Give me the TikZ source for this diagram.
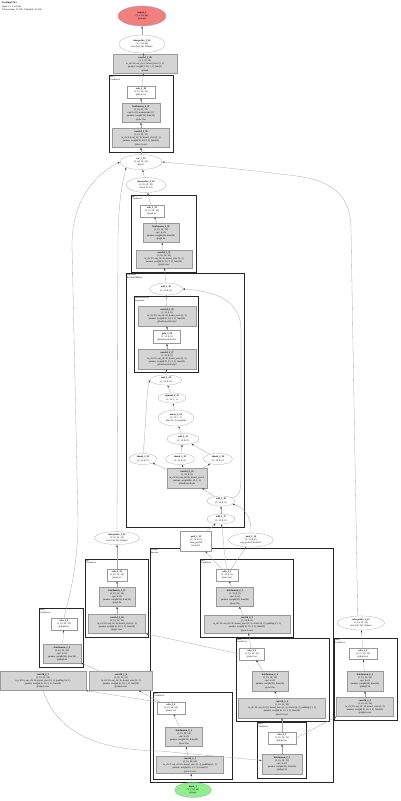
\documentclass[tikz,border=0pt]{standalone}
\usepackage{fontspec}
\setmainfont{Liberation Serif}
\usetikzlibrary{shapes.geometric,arrows.meta}
\definecolor{outred}{HTML}{F08080}
\definecolor{ingreen}{HTML}{90EE90}

\begin{document}
\begin{tikzpicture}[
x=1pt, y=-1pt,
every node/.style={font=\fontsize{2.4}{3.2}\selectfont, align=center, inner sep=0pt},
module/.style={rectangle, draw=black!40, line width=0.2pt, fill=black!17, minimum width=#1, minimum height=19},
func/.style={rectangle, draw=black!40, line width=0.2pt, fill=white, minimum width=#1, minimum height=12},
tensor/.style={ellipse, draw=black!40, line width=0.2pt, fill=white, minimum width=#1, minimum height=12},
grp/.style={draw=black!85, line width=0.8pt},
grplabel/.style={anchor=north west, align=left, inner sep=0.7pt, font=\fontsize{2.2}{2.6}\selectfont},
edge/.style={draw=black!35, line width=0.3pt, -{Latex[length=2.2pt,width=1.6pt,color=black!75]}}
]
\useasboundingbox (0,0) rectangle (400,801);

\node[anchor=north west, align=left] (title) at (2,2)
{\textbf{FastSkipUNet}\\Input: (1, 1, 64, 64)\\Total params: 31,566 \enspace Trainable: 31,566};

% clusters
\draw[grp] (109,75) rectangle (173,152);
\node[grplabel] (labA) at (109,75) {dec1\\ConvBlock};
\draw[grp] (131,195) rectangle (196,272);
\node[grplabel] (labB) at (131,195) {up2\\ConvBlock};
\draw[grp] (126,273) rectangle (244,527);
\node[grplabel] (labC) at (126,273) {bottleneck\\ResidualSEBlock};
\draw[grp] (134,296) rectangle (198,372);
\node[grplabel] (labD) at (134,296) {bottleneck.body\\Sequential};
\draw[grp] (85,559) rectangle (148,637);
\node[grplabel] (labF) at (85,559) {up1\\ConvBlock};
\draw[grp] (39,608) rectangle (83,667);
\node[grplabel] (labE) at (39,608) {skip0\\ConvBlock};
\draw[grp] (150,548) rectangle (333,782);
\node[grplabel] (labG) at (150,548) {encoder\\Encoder};
\draw[grp] (200,559) rectangle (293,637);
\node[grplabel] (labG1) at (200,559) {enc3\\ConvBlock};
\draw[grp] (236,638) rectangle (329,721);
\node[grplabel] (labG2) at (236,638) {enc2\\ConvBlock};
\draw[grp] (257,722) rectangle (306,778);
\node[grplabel] (labG3) at (257,722) {skip1\\ConvBlock};
\draw[grp] (153,692) rectangle (232,779);
\node[grplabel] (labH) at (153,692) {enc1\\ConvBlock};
\draw[grp] (334,638) rectangle (397,720);
\node[grplabel] (labJ) at (334,638) {skip2\\ConvBlock};

% head
\node[tensor=48, minimum height=20, fill=outred] (outp) at (142,16)
{\textbf{output\_1}\\(1, 1, 64, 64)\\@output};
\node[tensor=46, minimum height=18] (interpT) at (142,44)
{\textbf{interpolate\_1\_41}\\(1, 1, 64, 64)\\size=(64, 64), bilinear};
\node[module=64] (convT) at (145,64)
{\textbf{conv2d\_1\_40}\\(1, 1, 32, 32)\\in\_ch=16, out\_ch=1, kernel\_size=(1, 1)\\params: weight(1, 16, 1, 1), bias(1)\\@head};

\node[func=28] (reluA) at (141,92)
{\textbf{relu\_2\_38}\\(1, 16, 32, 32)\\@dec1.act};
\node[module=38] (bnA) at (141,113)
{\textbf{batchnorm\_2\_37}\\(1, 16, 32, 32)\\eps=1e-05, momentum=0.1\\params: weight(16), bias(16)\\@dec1.bn};
\node[module=57] (convA) at (141,138)
{\textbf{conv2d\_2\_36}\\(1, 16, 32, 32)\\in\_ch=64, out\_ch=16, kernel\_size=(3, 3)\\params: weight(16, 64, 3, 3), bias(16)\\@dec1.conv};

\node[tensor=42, minimum height=15] (cat1) at (141,162)
{\textbf{cat\_1\_35}\\(1, 64, 32, 32)\\dim=1};
\node[tensor=40, minimum height=15] (interp2) at (146,185)
{\textbf{interpolate\_1\_34}\\(1, 16, 32, 32)\\size=(32, 32)};

\node[func=24] (reluB) at (152,211)
{\textbf{relu\_2\_33}\\(1, 16, 16, 16)\\@up2.act};
\node[module=36] (bnB) at (161,233)
{\textbf{batchnorm\_2\_32}\\(1, 16, 16, 16)\\eps=1e-05\\params: weight(16), bias(16)\\@up2.bn};
\node[module=56, minimum height=18] (convB) at (164,259)
{\textbf{conv2d\_2\_31}\\(1, 16, 16, 16)\\in\_ch=32, out\_ch=16, kernel\_size=(3, 3)\\params: weight(16, 32, 3, 3), bias(16)\\@up2.conv};

% bottleneck
\node[tensor=33] (add1) at (166,289)
{\textbf{add\_2\_30}\\(1, 32, 8, 8)};
\node[module=58, minimum height=20] (convD1) at (167,316)
{\textbf{conv2d\_3\_29}\\(1, 32, 8, 8)\\in\_ch=32, out\_ch=32, kernel\_size=(3, 3)\\params: weight(32, 32, 3, 3), bias(32)\\@bottleneck.body.2};
\node[func=27, minimum height=13] (gelu) at (167,337)
{\textbf{gelu\_3\_28}\\(1, 32, 8, 8)\\@bottleneck.body.1};
\node[module=58, minimum height=20] (convD2) at (167,359)
{\textbf{conv2d\_3\_27}\\(1, 32, 8, 8)\\in\_ch=32, out\_ch=32, kernel\_size=(3, 3)\\params: weight(32, 32, 3, 3), bias(32)\\@bottleneck.body.0};
\node[tensor=32, minimum height=10] (add2) at (166,380)
{\textbf{mul\_2\_26}\\(1, 32, 8, 8)};
\node[tensor=28, minimum height=10] (sigm) at (172,398)
{\textbf{sigmoid\_2\_25}\\(1, 32, 1, 1)};
\node[tensor=36, minimum height=16] (meanN) at (176,418)
{\textbf{mean\_2\_24}\\(1, 32, 1, 1)\\dim=(2, 3), keepdim};
\node[tensor=32, minimum height=11] (mulN) at (183,439)
{\textbf{add\_2\_23}\\(1, 32, 8, 8)};
\node[tensor=28, minimum height=11] (chL) at (143,459)
{\textbf{chunk\_2\_22}\\(1, 32, 8, 8)};
\node[tensor=29, minimum height=11] (chM) at (180,459)
{\textbf{chunk\_2\_21}\\(1, 32, 8, 8)};
\node[tensor=29, minimum height=11] (chR) at (218,459)
{\textbf{chunk\_2\_20}\\(1, 32, 8, 8)};
\node[module=40, minimum height=20] (convM) at (187,478)
{\textbf{conv2d\_2\_19}\\(1, 96, 8, 8)\\in\_ch=32, out\_ch=96, kernel\_size=1\\params: weight(96, 32, 1, 1)\\@bottleneck.qkv};
\node[tensor=28, minimum height=10] (add3) at (221,501)
{\textbf{add\_2\_18}\\(1, 32, 8, 8)};
\node[tensor=28, minimum height=10] (add4) at (221,519)
{\textbf{add\_2\_17}\\(1, 32, 8, 8)};

% middle row
\node[tensor=45, minimum height=13] (interp3) at (117,538)
{\textbf{interpolate\_1\_16}\\(1, 16, 32, 32)\\size=(32, 32), bilinear};
\node[func=31, minimum height=20] (viewN) at (196,541)
{\textbf{pool\_1\_15}\\(1, 32, 8, 8)\\max\_pool2d\\kernel=2};
\node[tensor=45, minimum height=14] (ellR) at (251,540)
{\textbf{pool\_1\_14}\\(1, 32, 8, 8)\\avg\_pool2d, kernel=2};
\node[tensor=47, minimum height=14] (interpR) at (361,623)
{\textbf{interpolate\_1\_13}\\(1, 16, 32, 32)\\size=(32, 32), bilinear};

% up1 and skip0
\node[func=20] (reluF) at (117,575)
{\textbf{relu\_2\_12}\\(1, 16, 16, 16)\\@up1.act};
\node[module=36] (bnF) at (117,597)
{\textbf{batchnorm\_2\_11}\\(1, 16, 16, 16)\\eps=1e-05\\params: weight(16), bias(16)\\@up1.bn};
\node[module=57] (convF) at (117,624)
{\textbf{conv2d\_2\_10}\\(1, 16, 16, 16)\\in\_ch=32, out\_ch=16, kernel\_size=(3, 3)\\params: weight(16, 32, 3, 3), bias(16)\\@up1.conv};
\node[func=26] (reluE) at (64,624)
{\textbf{relu\_2\_9}\\(1, 16, 32, 32)\\@skip0.act};
\node[module=38] (bnE) at (62,654)
{\textbf{batchnorm\_2\_8}\\(1, 16, 32, 32)\\eps=1e-05\\params: weight(16), bias(16)\\@skip0.bn};
\node[module=86] (convL1) at (43,681)
{\textbf{conv2d\_2\_7}\\(1, 16, 32, 32)\\in\_ch=16, out\_ch=16, kernel\_size=(3, 3), padding=(1, 1)\\params: weight(16, 16, 3, 3), bias(16)\\@skip1.conv};
\node[module=63] (convL2) at (121,681)
{\textbf{conv2d\_2\_6}\\(1, 16, 32, 32)\\in\_ch=16, out\_ch=16, kernel\_size=(3, 3)\\params: weight(16, 16, 3, 3), bias(16)\\@skip0.conv};

% encoder
\node[func=22] (reluG1) at (227,575)
{\textbf{relu\_2\_5}\\(1, 32, 8, 8)\\@enc3.act};
\node[module=37] (bnG1) at (235,597)
{\textbf{batchnorm\_2\_5}\\(1, 32, 8, 8)\\eps=1e-05\\params: weight(32), bias(32)\\@enc3.bn};
\node[module=86, minimum height=18] (convG1) at (247,624)
{\textbf{conv2d\_2\_5}\\(1, 32, 8, 8)\\in\_ch=16, out\_ch=32, kernel\_size=(3, 3), stride=(2, 2), padding=(1, 1)\\params: weight(32, 16, 3, 3), bias(32)\\@enc3.conv};
\node[func=25] (reluG2) at (252,654)
{\textbf{relu\_2\_4}\\(1, 16, 16, 16)\\@enc2.act};
\node[module=36, minimum height=20] (bnG2) at (270,681)
{\textbf{batchnorm\_2\_4}\\(1, 16, 16, 16)\\eps=1e-05\\params: weight(16), bias(16)\\@enc2.bn};
\node[module=87, minimum height=20] (convG2) at (282,708)
{\textbf{conv2d\_2\_4}\\(1, 16, 16, 16)\\in\_ch=16, out\_ch=16, kernel\_size=(3, 3), stride=(2, 2), padding=(1, 1)\\params: weight(16, 16, 3, 3), bias(16)\\@enc2.conv};
\node[func=28] (reluG3) at (282,738)
{\textbf{relu\_2\_3}\\(1, 16, 32, 32)\\@skip1.act};
\node[module=40, minimum height=20] (bnG3) at (282,764)
{\textbf{batchnorm\_2\_3}\\(1, 16, 32, 32)\\eps=1e-05\\params: weight(16), bias(16)\\@skip1.bn};
\node[func=28] (reluH) at (171,708)
{\textbf{relu\_2\_2}\\(1, 16, 64, 64)\\@enc1.act};
\node[module=37] (bnH) at (184,737)
{\textbf{batchnorm\_2\_2}\\(1, 16, 64, 64)\\eps=1e-05\\params: weight(16), bias(16)\\@enc1.bn};
\node[module=67, minimum height=17] (convH) at (190,765)
{\textbf{conv2d\_2\_1}\\(1, 16, 64, 64)\\in\_ch=1, out\_ch=16, kernel\_size=(3, 3), padding=(1, 1)\\params: weight(16, 1, 3, 3), bias(16)\\@enc1.conv};

% skip2
\node[func=28, minimum height=11] (reluJ) at (363,654)
{\textbf{relu\_2\_2}\\(1, 16, 16, 16)\\@skip2.act};
\node[module=36, minimum height=20] (bnJ) at (365,681)
{\textbf{batchnorm\_2\_2}\\(1, 16, 16, 16)\\eps=1e-05\\params: weight(16), bias(16)\\@skip2.bn};
\node[module=57] (convJ) at (365,707)
{\textbf{conv2d\_2\_2}\\(1, 16, 16, 16)\\in\_ch=16, out\_ch=16, kernel\_size=(3, 3)\\params: weight(16, 16, 3, 3), bias(16)\\@skip2.conv};

\node[tensor=37, minimum height=15, fill=ingreen] (inp) at (193,790)
{\textbf{input\_1}\\(1, 1, 64, 64)\\@input};

% edges
\draw[edge] (convT) -- (interpT);
\draw[edge] (interpT) -- (outp);
\draw[edge] (reluA) -- (convT);
\draw[edge] (bnA) -- (reluA);
\draw[edge] (convA) -- (bnA);
\draw[edge] (cat1) -- (convA);
\draw[edge] (interp2) -- (cat1);
\draw[edge] (reluB) -- (interp2);
\draw[edge] (bnB) -- (reluB);
\draw[edge] (convB) -- (bnB);
\draw[edge] (add1) -- (convB);
\draw[edge] (convD1) -- (add1);
\draw[edge] (gelu) -- (convD1);
\draw[edge] (convD2) -- (gelu);
\draw[edge] (add2) -- (convD2);
\draw[edge] (sigm) -- (add2);
\draw[edge] (meanN) -- (sigm);
\draw[edge] (mulN) -- (meanN);
\draw[edge] (chM) -- (mulN);
\draw[edge] (chR) -- (mulN);
\draw[edge] (chL.north) .. controls (146,430) and (146,392) .. (add2.west);
\draw[edge] (convM) -- (chL);
\draw[edge] (convM) -- (chM);
\draw[edge] (convM) -- (chR);
\draw[edge] (add3) -- (convM);
\draw[edge] (add4) -- (add3);
\draw[edge] (add3.20) .. controls (241,497) and (241,490) .. (241,470) -- (241,330)
  .. controls (241,300) and (215,291) .. (add1.east);
\draw[edge] (ellR.north) .. controls (252,520) and (246,508) .. (add3.-15);
\draw[edge] (viewN) -- (add4);
\draw[edge] (reluG1) -- (add4);
\draw[edge] (reluG1) -- (viewN);
\draw[edge] (reluG1) -- (ellR);
\draw[edge] (bnG1) -- (reluG1);
\draw[edge] (convG1) -- (bnG1);
\draw[edge] (reluG2) -- (convG1);
\draw[edge] (reluG2.west) -- (convF.south east);
\draw[edge] (bnG2) -- (reluG2);
\draw[edge] (convG2) -- (bnG2);
\draw[edge] (reluG3) -- (convG2);
\draw[edge] (reluG3.east) -- (convJ.south west);
\draw[edge] (bnG3) -- (reluG3);
\draw[edge] (convL1.south) .. controls (60,740) and (110,750) .. (160,751) -- (bnG3.170);
\draw[edge] (reluH.north west) -- (convL1.south east);
\draw[edge] (reluH) -- (convL2);
\draw[edge] (bnH) -- (reluH);
\draw[edge] (convH) -- (bnH);
\draw[edge] (inp) -- (convH);
\draw[edge] (convL2) -- (bnE);
\draw[edge] (bnE) -- (reluE);
\draw[edge] (reluE.north) .. controls (68,600) and (78,570) .. (78,520) -- (72,245)
  .. controls (72,195) and (100,172) .. (cat1.west);
\draw[edge] (convF) -- (bnF);
\draw[edge] (bnF) -- (reluF);
\draw[edge] (reluF) -- (interp3);
\draw[edge] (interp3.north) -- (118,245) .. controls (118,195) and (124,178) .. (cat1.south west);
\draw[edge] (convJ) -- (bnJ);
\draw[edge] (bnJ) -- (reluJ);
\draw[edge] (reluJ) -- (interpR);
\draw[edge] (interpR.115) -- (351,230) .. controls (351,185) and (320,178) .. (280,174)
  .. controls (230,168) .. (cat1.east);

\end{tikzpicture}
\end{document}
